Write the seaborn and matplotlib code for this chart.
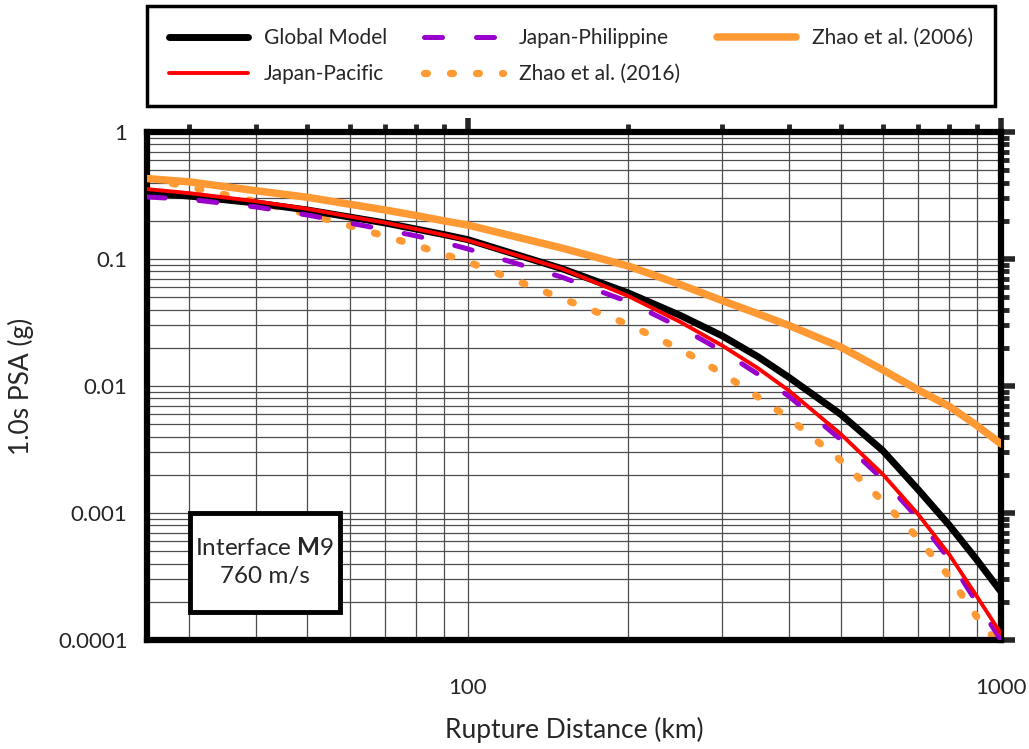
import numpy as np
import pandas as pd
import matplotlib
matplotlib.use("Agg")
import matplotlib.pyplot as plt
import matplotlib.ticker as mticker
from matplotlib.patches import Rectangle
import seaborn as sns

# distances (km) and 1.0s PSA (g)
distance = [25, 30, 40, 50, 60, 70, 80, 90, 100, 150, 200, 250, 300, 350, 400,
            500, 600, 700, 800, 900, 1000]
global_model = [0.331, 0.313, 0.276, 0.243, 0.214, 0.192, 0.172, 0.156, 0.142, 0.084, 0.054,
                0.036, 0.0248, 0.0170, 0.0117, 0.0060, 0.0031, 0.00152, 0.00080, 0.00043, 0.00024]
japan_pacific = [0.355, 0.33, 0.285, 0.248, 0.216, 0.193, 0.172, 0.155, 0.140, 0.084, 0.051,
                 0.032, 0.0208, 0.0138, 0.0092, 0.0042, 0.00202, 0.00097, 0.00047, 0.000222, 0.000112]
japan_philippine = [0.308, 0.295, 0.257, 0.222, 0.192, 0.170, 0.152, 0.135, 0.120, 0.072, 0.046,
                    0.029, 0.0188, 0.0124, 0.0083, 0.0038, 0.00184, 0.00090, 0.00043, 0.000198, 0.0001]
zhao_2016 = [0.43, 0.37, 0.283, 0.226, 0.183, 0.151, 0.128, 0.109, 0.095, 0.049, 0.0305,
             0.0195, 0.0126, 0.0082, 0.0056, 0.0026, 0.00124, 0.00063, 0.000315, 0.000153, 0.000088]
zhao_2006 = [0.43, 0.405, 0.345, 0.306, 0.27, 0.243, 0.22, 0.2, 0.185, 0.122, 0.088,
             0.063, 0.047, 0.037, 0.030, 0.0203, 0.0134, 0.0093, 0.0069, 0.0049, 0.0035]

x_ticks = [100, 1000]
y_ticks = [0.0001, 0.001, 0.01, 0.1, 1]

sns.set_style("white")
plt.rcParams['font.family'] = ['Lato', 'DejaVu Sans']
plt.rcParams['mathtext.fontset'] = 'custom'
plt.rcParams['mathtext.rm'] = 'Lato'
plt.rcParams['mathtext.bf'] = 'Lato:bold'

fig = plt.figure(figsize=(10.29, 7.49), dpi=100)
ax = fig.add_axes([147/1029, 1 - 640/749, (1001 - 147)/1029, (640 - 132)/749])

df = pd.DataFrame({"d": distance})
series = [
    ("Global Model", global_model, dict(color="black", lw=5.0, linestyle="-")),
    ("Japan-Pacific", japan_pacific, dict(color="#ff0000", lw=2.8, linestyle="-")),
    ("Japan-Philippine", japan_philippine, dict(color="#9900cc", lw=3.6, linestyle=(0, (3.6, 6.8)),
                                                dash_capstyle="round")),
    ("Zhao et al. (2016)", zhao_2016, dict(color="#ff9933", lw=5.2, linestyle=(0, (0.4, 3.2)),
                                           dash_capstyle="round")),
    ("Zhao et al. (2006)", zhao_2006, dict(color="#ff9933", lw=5.4, linestyle="-")),
]
zorders = {"Global Model": 3, "Japan-Pacific": 5, "Japan-Philippine": 4,
           "Zhao et al. (2016)": 2, "Zhao et al. (2006)": 3}
for name, vals, kw in series:
    df[name] = vals
    sns.lineplot(data=df, x="d", y=name, ax=ax, label=name, legend=False,
                 zorder=zorders[name], **kw)

ax.set_xscale("log")
ax.set_yscale("log")
ax.set_xlim(25, 1000)
ax.set_ylim(0.0001, 1)

ax.xaxis.set_major_locator(mticker.FixedLocator(x_ticks))
ax.xaxis.set_minor_locator(mticker.LogLocator(base=10, subs=np.arange(2, 10)))
ax.yaxis.set_major_locator(mticker.FixedLocator(y_ticks))
ax.yaxis.set_minor_locator(mticker.LogLocator(base=10, subs=np.arange(2, 10), numticks=20))
fmt = mticker.FuncFormatter(lambda v, _: f"{v:g}")
ax.xaxis.set_major_formatter(fmt)
ax.yaxis.set_major_formatter(fmt)
ax.xaxis.set_minor_formatter(mticker.NullFormatter())
ax.yaxis.set_minor_formatter(mticker.NullFormatter())

ax.grid(True, which="both", color="#4d4d4d", lw=0.9)
ax.set_axisbelow(True)

for s in ax.spines.values():
    s.set_linewidth(4.5)
    s.set_color("black")
ax.tick_params(which="major", direction="out", length=10, width=4, top=True, right=True,
               labelsize=16, pad=4)
ax.tick_params(axis="x", which="major", pad=17)
ax.tick_params(which="minor", direction="out", length=6, width=3.5, top=True, right=True)

ax.set_xlabel("Rupture Distance (km)", fontsize=19, labelpad=14)
ax.set_ylabel("1.0s PSA (g)", fontsize=19, labelpad=17)

# annotation box
ax.add_patch(Rectangle((0.0504, 0.055), 0.1756, 0.195, transform=ax.transAxes,
                       facecolor="white", edgecolor="black", lw=3.5, zorder=9))
ax.text(0.138, 0.1535, "Interface $\\mathbf{M}$9\n760 m/s", transform=ax.transAxes,
        ha="center", va="center", fontsize=17.5, linespacing=1.4, zorder=10)

handles, labels = ax.get_legend_handles_labels()
order = ["Global Model", "Japan-Pacific", "Japan-Philippine", "Zhao et al. (2016)", "Zhao et al. (2006)"]
hmap = dict(zip(labels, handles))
leg = fig.legend([hmap[k] for k in order], order, ncol=3, loc="center",
                 bbox_to_anchor=(137/1029, 1 - 107/749, (1005 - 137)/1029, (104 - 2)/749),
                 mode="expand", fontsize=15, frameon=True, fancybox=False, framealpha=1,
                 edgecolor="black", handlelength=3.8, handletextpad=0.75, borderpad=1.05,
                 labelspacing=0.75, columnspacing=1.5)
leg.get_frame().set_linewidth(2.5)

fig.savefig("out.png", dpi=100)
